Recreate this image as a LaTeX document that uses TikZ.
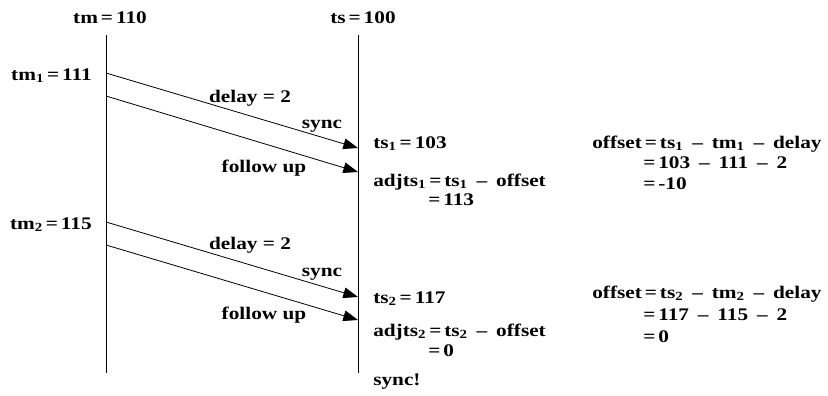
\documentclass[tikz,border=0pt]{standalone}
\usepackage{fontspec}
\setmainfont{Liberation Serif}[FakeStretch=1.2]
\usetikzlibrary{arrows.meta}
\newcommand{\tsub}[1]{\textsubscript{#1}}
\newcommand{\eqs}{\,=\,}
\newcommand{\mns}{\hspace{0.5em}--\hspace{0.5em}}
\begin{document}
\begin{tikzpicture}[x=0.75pt,y=-0.75pt,
  font=\bfseries\fontsize{13.3}{15}\selectfont,
  lbl/.style={inner sep=0pt,anchor=base west},
  msg/.style={-{Triangle[length=11pt,width=8pt]},line width=0.6pt}]
  \useasboundingbox (0,0) rectangle (828,396);
  % time lines
  \coordinate (Mt) at (106,35);
  \coordinate (Mb) at (106,373);
  \coordinate (St) at (358,35);
  \coordinate (Sb) at (358,373);
  \draw[line width=0.6pt] (Mt) -- (Mb);
  \draw[line width=0.6pt] (St) -- (Sb);
  \node[inner sep=0pt,anchor=base] (tm) at (110,23) {tm\eqs110};
  \node[inner sep=0pt,anchor=base] (ts) at (363,23) {ts\eqs100};
  % first round
  \coordinate (A1) at (106,73);
  \coordinate (B1) at (106,96);
  \coordinate (A1e) at (358,148);
  \coordinate (B1e) at (358,172);
  \draw[msg] (A1) -- (A1e);
  \draw[msg] (B1) -- (B1e);
  \node[inner sep=0pt,anchor=base east] (tm1) at (92,80) {tm\tsub{1}\eqs111};
  \node[inner sep=0pt,anchor=base] (dly1) at (250,102) {delay = 2};
  \node[inner sep=0pt,anchor=base] (syn1) at (322,128) {sync};
  \node[inner sep=0pt,anchor=base] (fol1) at (264,172) {follow up};
  \node[lbl] (ts1) at (373,148) {ts\tsub{1}\eqs103};
  \node[lbl] (adj1) at (373,186) {adjts\tsub{1}\eqs ts\tsub{1}\mns offset};
  \node[lbl] (res1) at (428,205) {=\,113};
  \node[lbl] (off1) at (592,148) {offset\eqs ts\tsub{1}\mns tm\tsub{1}\mns delay};
  \node[lbl] (off1b) at (643,168) {=\,103\mns 111\mns 2};
  \node[lbl] (off1c) at (643,189) {=\,-10};
  % second round
  \coordinate (A2) at (106,222);
  \coordinate (B2) at (106,245);
  \coordinate (A2e) at (358,297);
  \coordinate (B2e) at (358,320);
  \draw[msg] (A2) -- (A2e);
  \draw[msg] (B2) -- (B2e);
  \node[inner sep=0pt,anchor=base east] (tm2) at (92,229) {tm\tsub{2}\eqs115};
  \node[inner sep=0pt,anchor=base] (dly2) at (250,249) {delay = 2};
  \node[inner sep=0pt,anchor=base] (syn2) at (322,276) {sync};
  \node[inner sep=0pt,anchor=base] (fol2) at (264,319) {follow up};
  \node[lbl] (ts2) at (373,303) {ts\tsub{2}\eqs117};
  \node[lbl] (adj2) at (373,336) {adjts\tsub{2}\eqs ts\tsub{2}\mns offset};
  \node[lbl] (res2) at (428,356) {=\,0};
  \node[lbl] (done) at (373,385) {sync!};
  \node[lbl] (off2) at (592,298) {offset\eqs ts\tsub{2}\mns tm\tsub{2}\mns delay};
  \node[lbl] (off2b) at (643,320) {=\,117\mns 115\mns 2};
  \node[lbl] (off2c) at (643,342) {=\,0};
\end{tikzpicture}
\end{document}
